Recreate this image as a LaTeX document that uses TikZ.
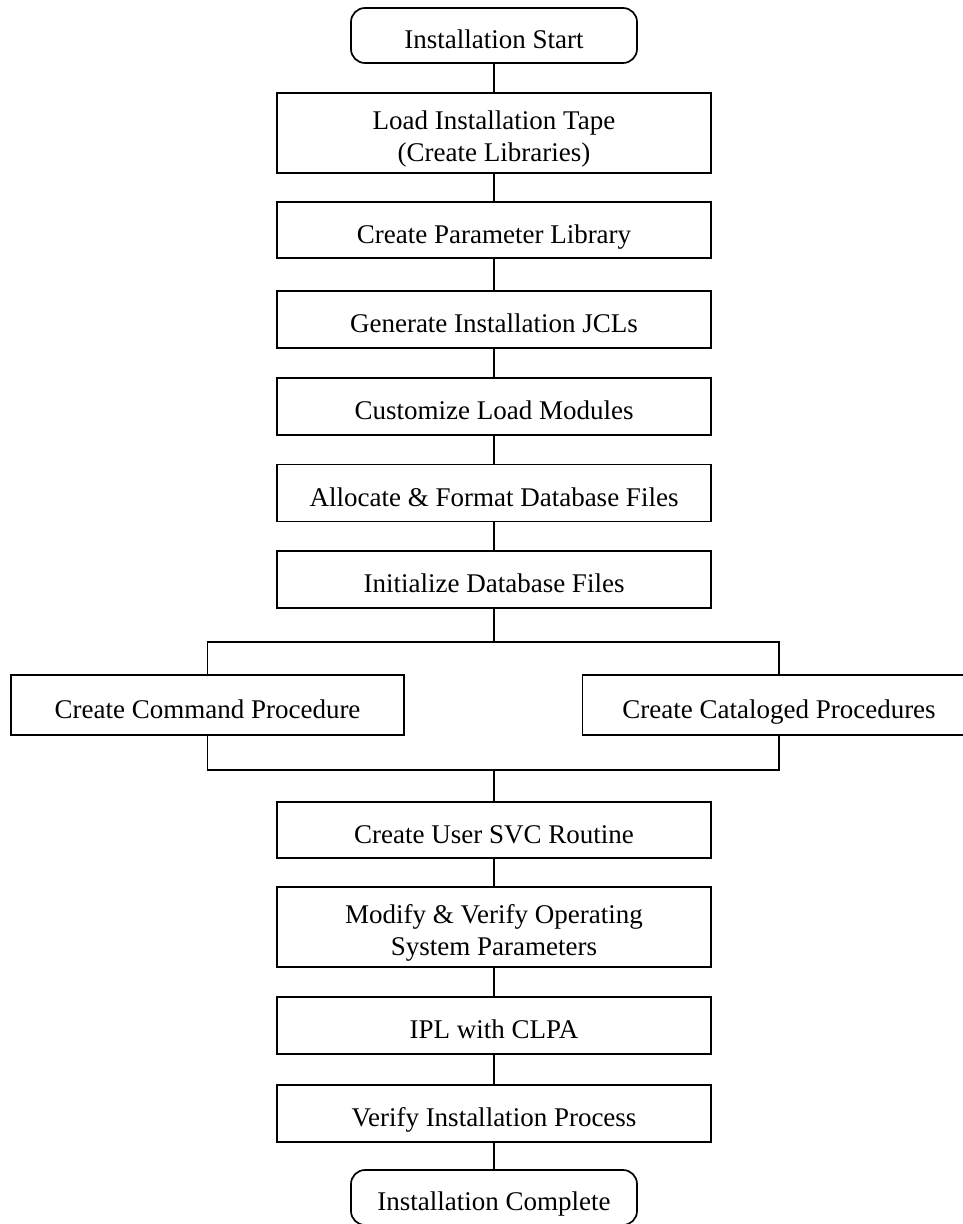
\documentclass[tikz,border=0pt]{standalone}
\usepackage{fontspec}
\setmainfont{Liberation Serif}
\begin{document}
\begin{tikzpicture}[x=1pt,y=-1pt,
  line width=1.7pt,
  every node/.style={font=\fontsize{27}{32}\selectfont, align=center, inner sep=0pt,
    text height=30pt, text depth=4pt},
  twoline/.style={text height=60pt, text depth=4pt},
  stepbox/.style={draw, rectangle, minimum width=434, minimum height=57},
  widebox/.style={draw, rectangle, minimum width=393, minimum height=60},
  terminal/.style={draw, rectangle, rounded corners=14pt, minimum width=286, minimum height=55},
  link/.style={line width=1.7pt}]
  \path[use as bounding box, clip] (0,0) rectangle (963,1224);

  % start and main sequence
  \node[terminal] (start) at (494,35.5) {Installation Start};
  \node[stepbox, twoline, minimum height=80] (load) at (494,133) {Load Installation Tape\\(Create Libraries)};
  \node[stepbox, minimum height=56] (param) at (494,230) {Create Parameter Library};
  \node[stepbox] (jcl) at (494,319.5) {Generate Installation JCLs};
  \node[stepbox] (cust) at (494,406.5) {Customize Load Modules};
  \node[stepbox] (alloc) at (494,493) {Allocate \& Format Database Files};
  \node[stepbox] (init) at (494,579.5) {Initialize Database Files};

  % parallel branch
  \node[widebox] (cmd) at (207.5,705) {Create Command Procedure};
  \node[widebox] (cat) at (779,705) {Create Cataloged Procedures};
  \coordinate (split) at (494,642);
  \coordinate (join) at (494,770);

  % remaining sequence
  \node[stepbox, minimum height=56] (svc) at (494,830) {Create User SVC Routine};
  \node[stepbox, twoline, minimum height=80] (sys) at (494,927) {Modify \& Verify Operating\\System Parameters};
  \node[stepbox] (ipl) at (494,1025.5) {IPL with CLPA};
  \node[stepbox] (verify) at (494,1113.5) {Verify Installation Process};
  \node[terminal] (done) at (494,1197.5) {Installation Complete};

  % connectors
  \draw[link] (start) -- (load);
  \draw[link] (load) -- (param);
  \draw[link] (param) -- (jcl);
  \draw[link] (jcl) -- (cust);
  \draw[link] (cust) -- (alloc);
  \draw[link] (alloc) -- (init);
  \draw[link] (init) -- (split);
  \draw[link] (cmd.north) |- (split) -| (cat.north);
  \draw[link] (cmd.south) |- (join) -| (cat.south);
  \draw[link] (join) -- (svc);
  \draw[link] (svc) -- (sys);
  \draw[link] (sys) -- (ipl);
  \draw[link] (ipl) -- (verify);
  \draw[link] (verify) -- (done);
\end{tikzpicture}
\end{document}
